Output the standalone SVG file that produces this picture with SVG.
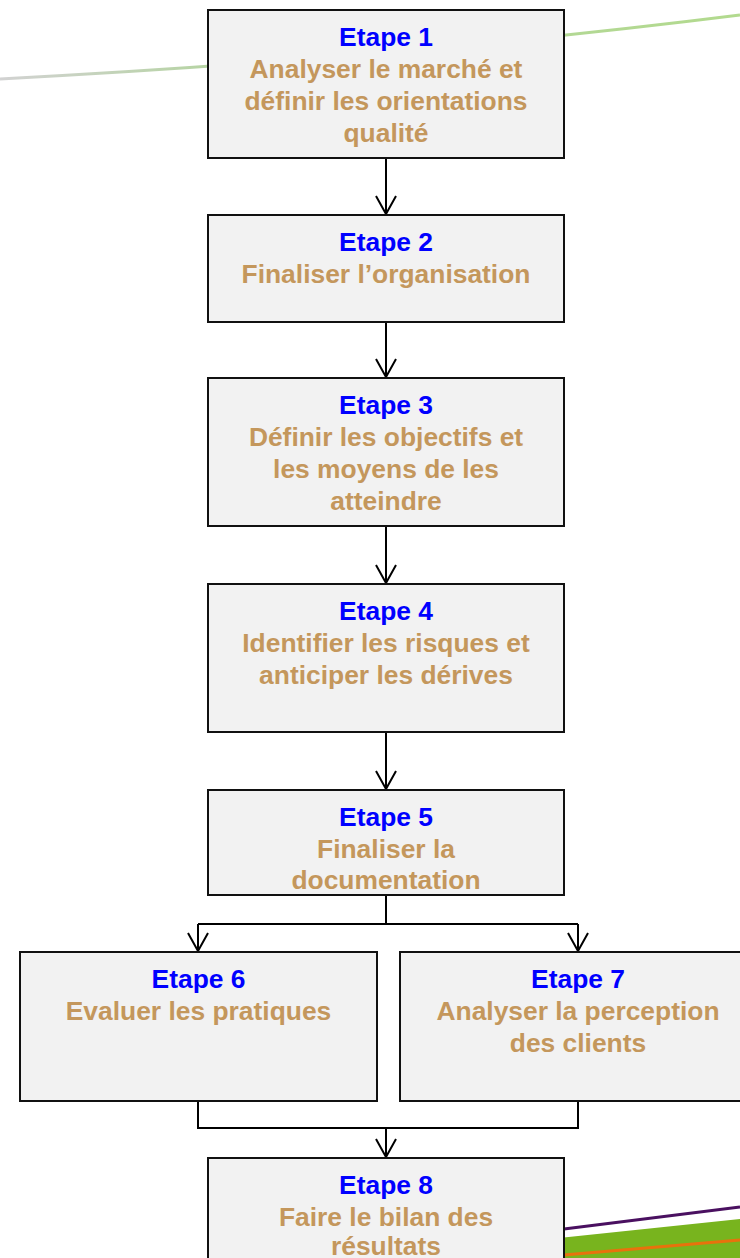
<svg xmlns="http://www.w3.org/2000/svg" width="740" height="1258" viewBox="0 0 740 1258">
<style>
.box{fill:#f2f2f2;stroke:#111;stroke-width:2}
.t{font-family:"Liberation Sans",Arial,sans-serif;font-weight:bold;font-size:26.4px;text-anchor:middle}
.h{fill:#0000ff}
.b{fill:#c4975c}
.c{fill:none;stroke:#000;stroke-width:2}
</style>
<defs>
<linearGradient id="topg" gradientUnits="userSpaceOnUse" x1="0" y1="0" x2="740" y2="0">
<stop offset="0" stop-color="#d2d2d2"/>
<stop offset="0.3" stop-color="#b4d4a0"/>
<stop offset="1" stop-color="#b2da8e"/>
</linearGradient>
<marker id="arr" markerUnits="userSpaceOnUse" viewBox="-20 -12 22 24" refX="0" refY="0" markerWidth="22" markerHeight="24" orient="auto">
<path d="M-18,-10 L0,0 L-18,10" fill="none" stroke="#000" stroke-width="2"/>
</marker>
</defs>
<g id="decor">
<path d="M0,79 C250,66 500,45 740,15" fill="none" stroke="url(#topg)" stroke-width="3"/>
<polygon points="540,1240 740,1219 740,1258 540,1258" fill="#78b41e"/>
<line x1="540" y1="1232" x2="740" y2="1207" stroke="#4a1060" stroke-width="3"/>
<line x1="540" y1="1257" x2="740" y2="1240" stroke="#e8720c" stroke-width="3"/>
</g>
<g id="connectors">
<path class="c" d="M386,158 L386,214" marker-end="url(#arr)"/>
<path class="c" d="M386,322 L386,377" marker-end="url(#arr)"/>
<path class="c" d="M386,526 L386,583" marker-end="url(#arr)"/>
<path class="c" d="M386,732 L386,789" marker-end="url(#arr)"/>
<path class="c" d="M386,895 L386,924 M198,924 L578,924"/>
<path class="c" d="M198,924 L198,951" marker-end="url(#arr)"/>
<path class="c" d="M578,924 L578,951" marker-end="url(#arr)"/>
<path class="c" d="M198,1101 L198,1128 L578,1128 L578,1101"/>
<path class="c" d="M386,1128 L386,1157" marker-end="url(#arr)"/>
</g>
<g id="etape1">
<rect class="box" x="208" y="10" width="356" height="148"/>
<text class="t h" x="386" y="46">Etape 1</text>
<text class="t b" x="386" y="78">Analyser le marché et</text>
<text class="t b" x="386" y="110">définir les orientations</text>
<text class="t b" x="386" y="142">qualité</text>
</g>
<g id="etape2">
<rect class="box" x="208" y="215" width="356" height="107"/>
<text class="t h" x="386" y="251">Etape 2</text>
<text class="t b" x="386" y="283">Finaliser l’organisation</text>
</g>
<g id="etape3">
<rect class="box" x="208" y="378" width="356" height="148"/>
<text class="t h" x="386" y="414">Etape 3</text>
<text class="t b" x="386" y="446">Définir les objectifs et</text>
<text class="t b" x="386" y="478">les moyens de les</text>
<text class="t b" x="386" y="510">atteindre</text>
</g>
<g id="etape4">
<rect class="box" x="208" y="584" width="356" height="148"/>
<text class="t h" x="386" y="620">Etape 4</text>
<text class="t b" x="386" y="652">Identifier les risques et</text>
<text class="t b" x="386" y="684">anticiper les dérives</text>
</g>
<g id="etape5">
<rect class="box" x="208" y="790" width="356" height="105"/>
<text class="t h" x="386" y="826">Etape 5</text>
<text class="t b" x="386" y="858">Finaliser la</text>
<text class="t b" x="386" y="889">documentation</text>
</g>
<g id="etape6">
<rect class="box" x="20" y="952" width="357" height="149"/>
<text class="t h" x="198.5" y="988">Etape 6</text>
<text class="t b" x="198.5" y="1020">Evaluer les pratiques</text>
</g>
<g id="etape7">
<rect class="box" x="400" y="952" width="360" height="149"/>
<text class="t h" x="578" y="988">Etape 7</text>
<text class="t b" x="578" y="1020">Analyser la perception</text>
<text class="t b" x="578" y="1052">des clients</text>
</g>
<g id="etape8">
<rect class="box" x="208" y="1158" width="356" height="140"/>
<text class="t h" x="386" y="1194">Etape 8</text>
<text class="t b" x="386" y="1226">Faire le bilan des</text>
<text class="t b" x="386" y="1255">résultats</text>
</g>
</svg>
